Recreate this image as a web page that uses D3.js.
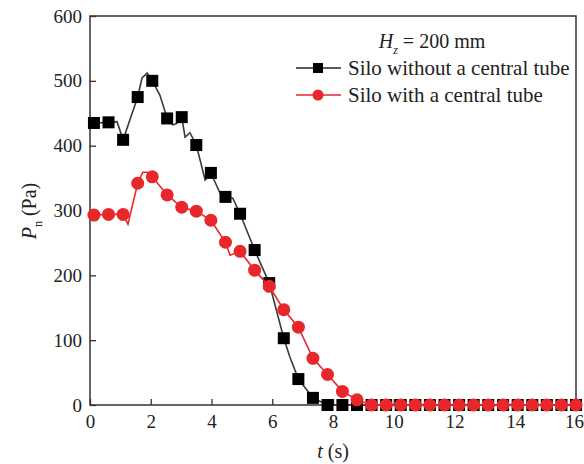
<!DOCTYPE html>
<html><head><meta charset="utf-8">
<script src="https://cdn.jsdelivr.net/npm/d3@7"></script>
<style>body{margin:0;background:#fff}svg{display:block}text{font-family:"Liberation Serif","Times New Roman",serif;fill:#222}</style>
</head><body><svg id="c" width="584" height="464"></svg>
<script>
// marker times (s)
const markerT = [0.13,0.61,1.09,1.57,2.05,2.54,3.02,3.50,3.98,4.46,4.94,5.42,5.90,6.38,6.86,7.34,7.82,8.31,8.79,9.27,9.75,10.23,10.71,11.19,11.67,12.15,12.63,13.11,13.60,14.08,14.56,15.04,15.52,16.00];
const withoutP = [435,436,409,475,500,442,444,401,358,321,295,239,188,103,40,11,0,0,0,0,0,0,0,0,0,0,0,0,0,0,0,0,0,0];
const withP    = [293,294,294,342,352,324,305,299,285,251,237,208,183,147,120,72,47,21,8,0,0,0,0,0,0,0,0,0,0,0,0,0,0,0];
// denser line traces
const withoutLineT = [0.13,0.61,0.89,1.09,1.57,1.71,1.88,2.05,2.30,2.54,2.73,2.85,3.02,3.13,3.29,3.50,3.79,3.98,4.28,4.46,4.70,4.94,5.42,5.90,6.38,6.58,6.86,7.34,7.82,8.31,8.79,16.00];
const withoutLineP = [435,436,437,409,475,504,512,500,478,442,432,434,444,413,420,401,347,358,327,321,319,295,239,188,103,74,40,11,0,0,0,0];
const withLineT = [0.13,0.61,1.09,1.25,1.57,1.74,1.88,2.05,2.54,3.02,3.50,3.98,4.46,4.61,4.94,5.42,5.90,6.38,6.86,7.34,7.82,8.31,8.79,9.27,16.00];
const withLineP = [293,294,294,279,342,359,359,352,324,305,299,285,251,231,237,208,183,147,120,72,47,21,8,0,0];
const xTicks = [0,2,4,6,8,10,12,14,16];
const yTicks = [0,100,200,300,400,500,600];
const seriesNames = ["Silo without a central tube","Silo with a central tube"];

const FONT='"Liberation Serif","Times New Roman",serif';
const svg = d3.select("#c");
const L=90,R=576,T=16,B=405;
const x = d3.scaleLinear().domain([0,16]).range([L,R]);
const y = d3.scaleLinear().domain([0,600]).range([B,T]);
const axCol="#333";

const gx = svg.append("g").attr("transform",`translate(0,${B})`)
  .call(d3.axisBottom(x).tickValues(xTicks).tickSize(-6).tickPadding(10).tickFormat(d3.format("d")));
const gy = svg.append("g").attr("transform",`translate(${L},0)`)
  .call(d3.axisLeft(y).tickValues(yTicks).tickSize(-6).tickPadding(8).tickFormat(d3.format("d")));
[gx,gy].forEach(g=>{
  g.attr("font-family",FONT).attr("font-size",19);
  g.select(".domain").remove();
  g.selectAll("line").attr("stroke",axCol).attr("stroke-width",1.3);
  g.selectAll("text").style("font-family",FONT).style("font-size","19px").attr("fill","#222");
});
gx.selectAll(".tick text").filter(d=>d===16).attr("dx",-2);
svg.append("rect").attr("x",L).attr("y",T).attr("width",R-L).attr("height",B-T)
  .attr("fill","none").attr("stroke",axCol).attr("stroke-width",1.5);

const line = d3.line().x(d=>x(d[0])).y(d=>y(d[1]));
const blackLine = withoutLineT.map((t,i)=>[t,withoutLineP[i]]);
const redLine = withLineT.map((t,i)=>[t,withLineP[i]]);
svg.append("path").attr("d",line(blackLine)).attr("fill","none").attr("stroke","#3a3a3a").attr("stroke-width",1.6);
svg.append("g").selectAll("rect").data(markerT.map((t,i)=>[t,withoutP[i]])).join("rect")
  .attr("x",d=>x(d[0])-6).attr("y",d=>y(d[1])-6).attr("width",12).attr("height",12).attr("fill","#000");
svg.append("path").attr("d",line(redLine)).attr("fill","none").attr("stroke","#e8272a").attr("stroke-width",1.6);
svg.append("g").selectAll("circle").data(markerT.map((t,i)=>[t,withP[i]])).join("circle")
  .attr("cx",d=>x(d[0])).attr("cy",d=>y(d[1])).attr("r",6.5).attr("fill","#e8272a");

// legend
const lt = svg.append("text").attr("x",432).attr("y",48).attr("text-anchor","middle").style("font-size","20px");
lt.append("tspan").style("font-style","italic").text("H");
lt.append("tspan").attr("dy",6).style("font-size","12px").style("font-style","italic").text("z");
lt.append("tspan").attr("dy",-6).text(" = 200 mm");
const leg = [{c:"#222",m:"sq"},{c:"#e8272a",m:"ci"}];
leg.forEach((s,i)=>{
  const yy = 68+i*27;
  svg.append("line").attr("x1",296).attr("x2",341).attr("y1",yy).attr("y2",yy).attr("stroke",s.c).attr("stroke-width",1.6);
  if(s.m==="sq") svg.append("rect").attr("x",313).attr("y",yy-5).attr("width",10).attr("height",10).attr("fill","#000");
  else svg.append("circle").attr("cx",318).attr("cy",yy).attr("r",5.5).attr("fill",s.c);
  svg.append("text").attr("x",348).attr("y",yy+7).style("font-size","21px").text(seriesNames[i]);
});

// axis titles
const xt = svg.append("text").attr("x",333).attr("y",458).attr("text-anchor","middle").style("font-size","20px");
xt.append("tspan").style("font-style","italic").text("t");
xt.append("tspan").text(" (s)");
const yt = svg.append("text").attr("transform","translate(36,211) rotate(-90)").attr("text-anchor","middle").style("font-size","20px");
yt.append("tspan").style("font-style","italic").text("P");
yt.append("tspan").attr("dy",6).style("font-size","12px").text("n");
yt.append("tspan").attr("dy",-6).text(" (Pa)");
</script></body></html>
